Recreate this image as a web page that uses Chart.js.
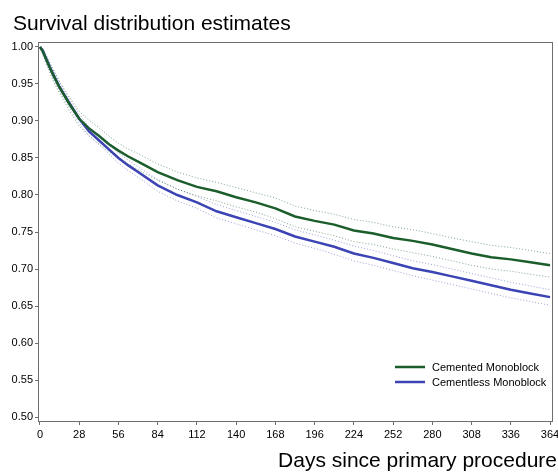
<!DOCTYPE html>
<html>
<head>
<meta charset="utf-8">
<script src="https://cdn.jsdelivr.net/npm/chart.js@4.4.1/dist/chart.umd.min.js"></script>
<style>
  html, body { margin: 0; padding: 0; background: #fff; }
  #wrap { width: 558px; height: 472px; position: relative; }
</style>
</head>
<body>
<div id="wrap"><canvas id="km"></canvas></div>
<script>
// days since primary procedure
const days = [0, 2, 4, 7, 10, 14, 21, 28, 35, 42, 49, 56, 63, 70, 84, 98, 112, 126, 140, 154, 168, 182, 196, 210, 224, 238, 252, 266, 280, 294, 308, 322, 336, 350, 364];

// Cemented Monoblock: estimate + 95% band
const cemented = [1.000, 0.994, 0.985, 0.972, 0.960, 0.945, 0.923, 0.903, 0.890, 0.880, 0.869, 0.860, 0.852, 0.845, 0.831, 0.820, 0.811, 0.805, 0.797, 0.790, 0.782, 0.771, 0.765, 0.760, 0.752, 0.748, 0.742, 0.738, 0.733, 0.727, 0.721, 0.716, 0.713, 0.709, 0.705];
const cementedUpper = [1.000, 0.997, 0.990, 0.979, 0.968, 0.953, 0.932, 0.913, 0.901, 0.891, 0.880, 0.870, 0.862, 0.856, 0.842, 0.831, 0.823, 0.817, 0.810, 0.803, 0.796, 0.785, 0.779, 0.774, 0.767, 0.763, 0.757, 0.753, 0.748, 0.742, 0.737, 0.732, 0.729, 0.725, 0.721];
const cementedLower = [1.000, 0.989, 0.979, 0.965, 0.952, 0.937, 0.914, 0.893, 0.880, 0.869, 0.859, 0.850, 0.842, 0.834, 0.820, 0.808, 0.799, 0.792, 0.784, 0.777, 0.768, 0.757, 0.751, 0.745, 0.737, 0.733, 0.727, 0.722, 0.717, 0.711, 0.705, 0.700, 0.697, 0.693, 0.689];

// Cementless Monoblock: estimate + 95% band
const cementless = [1.000, 0.995, 0.986, 0.973, 0.961, 0.946, 0.924, 0.903, 0.886, 0.874, 0.862, 0.850, 0.840, 0.831, 0.813, 0.800, 0.790, 0.778, 0.770, 0.762, 0.754, 0.744, 0.737, 0.730, 0.721, 0.715, 0.708, 0.701, 0.696, 0.690, 0.684, 0.678, 0.672, 0.667, 0.662];
const cementlessUpper = [1.000, 0.998, 0.990, 0.978, 0.967, 0.952, 0.930, 0.909, 0.892, 0.880, 0.868, 0.857, 0.847, 0.838, 0.821, 0.808, 0.798, 0.787, 0.779, 0.771, 0.763, 0.753, 0.746, 0.739, 0.731, 0.725, 0.718, 0.711, 0.706, 0.700, 0.694, 0.688, 0.682, 0.677, 0.672];
const cementlessLower = [1.000, 0.992, 0.982, 0.968, 0.955, 0.940, 0.918, 0.897, 0.880, 0.868, 0.856, 0.843, 0.833, 0.824, 0.805, 0.792, 0.782, 0.769, 0.761, 0.753, 0.745, 0.735, 0.728, 0.720, 0.711, 0.705, 0.698, 0.691, 0.685, 0.679, 0.673, 0.667, 0.661, 0.656, 0.651];

const xTicks = [0, 28, 56, 84, 112, 140, 168, 196, 224, 252, 280, 308, 336, 364];
const yTicks = [0.50, 0.55, 0.60, 0.65, 0.70, 0.75, 0.80, 0.85, 0.90, 0.95, 1.00];

const GREEN = "#1b5e2b";
const BLUE = "#3c43b4";
const FONT = "'Liberation Sans', Arial, Helvetica, sans-serif";

function pts(vals) {
    return days.map((d, i) => ({ x: d, y: vals[i] }));
}

function band(vals, color, label) {
    return {
        label: label,
        data: pts(vals),
        borderColor: color,
        borderWidth: 1,
        borderDash: [1, 2],
        pointRadius: 0,
        tension: 0,
        fill: false,
        isBand: true,
    };
}

const frameAndText = {
    id: 'frameAndText',
    afterDraw(chart) {
        const ctx = chart.ctx;
        const a = chart.chartArea;
        ctx.save();
        ctx.strokeStyle = "#6e6e6e";
        ctx.lineWidth = 1;
        ctx.strokeRect(a.left - 0.5, a.top - 0.5, a.right - a.left + 1, a.bottom - a.top + 1);

        // title
        ctx.fillStyle = "#000";
        ctx.font = "21px " + FONT;
        ctx.textAlign = "left";
        ctx.textBaseline = "alphabetic";
        ctx.fillText("Survival distribution estimates", 13, 30);

        // x axis title (runs to the right edge like the original)
        ctx.font = "21px " + FONT;
        ctx.textAlign = "right";
        ctx.fillText("Days since primary procedure", 557, 467);

        // legend inside the plot
        const main = chart.data.datasets.filter(d => !d.isBand);
        ctx.font = "11px " + FONT;
        ctx.textAlign = "left";
        ctx.textBaseline = "middle";
        main.forEach((ds, i) => {
            const y = 367 + i * 15;
            ctx.strokeStyle = ds.borderColor;
            ctx.lineWidth = 2.5;
            ctx.beginPath();
            ctx.moveTo(395, y);
            ctx.lineTo(425, y);
            ctx.stroke();
            ctx.fillStyle = "#000";
            ctx.fillText(ds.label, 432, y + 1);
        });
        ctx.restore();
    }
};

new Chart(document.getElementById('km'), {
    type: 'line',
    data: {
        datasets: [
            band(cementedUpper, "rgba(27,94,43,0.55)", "Cemented upper"),
            band(cementedLower, "rgba(27,94,43,0.55)", "Cemented lower"),
            band(cementlessUpper, "rgba(60,67,180,0.5)", "Cementless upper"),
            band(cementlessLower, "rgba(60,67,180,0.5)", "Cementless lower"),
            {
                label: "Cemented Monoblock",
                data: pts(cemented),
                borderColor: GREEN,
                borderWidth: 2.5,
                pointRadius: 0,
                tension: 0,
                fill: false,
            },
            {
                label: "Cementless Monoblock",
                data: pts(cementless),
                borderColor: BLUE,
                borderWidth: 2.5,
                pointRadius: 0,
                tension: 0,
                fill: false,
            },
        ]
    },
    options: {
        responsive: true,
        maintainAspectRatio: false,
        animation: false,
        layout: {
            padding: { top: 43, right: 6, left: 0, bottom: 0 }
        },
        scales: {
            x: {
                type: 'linear',
                min: -0.7,
                max: 365.4,
                afterBuildTicks: (scale) => {
                    scale.ticks = xTicks.map(v => ({ value: v }));
                },
                afterFit: (scale) => {
                    scale.height = 51;
                    scale.paddingLeft = 0;
                    scale.paddingRight = 0;
                },
                ticks: {
                    autoSkip: false,
                    maxRotation: 0,
                    color: "#000",
                    padding: 3,
                    font: { size: 11, family: FONT },
                },
                grid: {
                    drawOnChartArea: false,
                    drawTicks: true,
                    tickLength: 4,
                    color: "#6e6e6e",
                },
                border: { display: false },
            },
            y: {
                type: 'linear',
                min: 0.4946,
                max: 1.0054,
                afterBuildTicks: (scale) => {
                    scale.ticks = yTicks.map(v => ({ value: v }));
                },
                afterFit: (scale) => {
                    scale.width = 39;
                    scale.paddingTop = 0;
                    scale.paddingBottom = 0;
                },
                ticks: {
                    color: "#000",
                    padding: 2,
                    font: { size: 11, family: FONT },
                    callback: (v) => Number(v).toFixed(2),
                },
                grid: {
                    drawOnChartArea: false,
                    drawTicks: true,
                    tickLength: 4,
                    color: "#6e6e6e",
                },
                border: { display: false },
            },
        },
        plugins: {
            legend: { display: false },
            title: { display: false },
            tooltip: { enabled: false },
        }
    },
    plugins: [frameAndText],
});
</script>
</body>
</html>
